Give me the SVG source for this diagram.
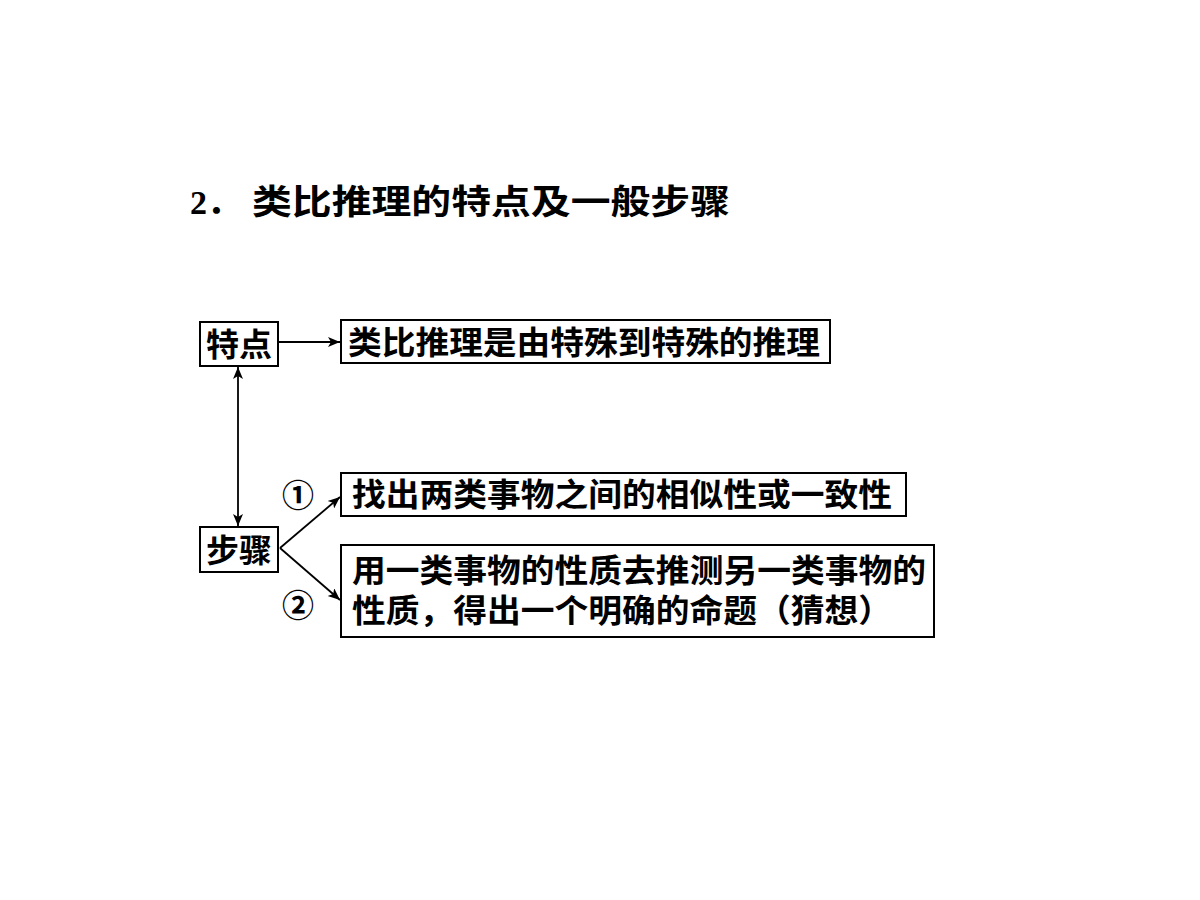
<svg xmlns="http://www.w3.org/2000/svg" width="1200" height="900" viewBox="0 0 1200 900">
<style>
text{font-family:"Liberation Serif","Noto Sans CJK SC",serif;font-weight:bold;fill:#000}
.t{font-size:32px}
.b{fill:#fff;stroke:#000;stroke-width:2}
.c{stroke:#000;stroke-width:1.8;fill:none}
</style>
<defs>
<marker id="a" viewBox="0 0 12 10" refX="12" refY="5" markerWidth="13" markerHeight="10" markerUnits="userSpaceOnUse" orient="auto-start-reverse"><path d="M0,0 L12,5 L0,10 L3,5 Z" fill="#000"/></marker>
</defs>
<rect width="1200" height="900" fill="#fff"/>
<text x="190" y="214" font-size="34">2．</text>
<text x="252" y="214" font-size="34" textLength="478" lengthAdjust="spacingAndGlyphs">类比推理的特点及一般步骤</text>
<g id="connectors">
<line class="c" x1="279" y1="342" x2="340" y2="342" marker-end="url(#a)"/>
<line class="c" x1="238" y1="367" x2="238" y2="526" marker-start="url(#a)" marker-end="url(#a)"/>
<line class="c" x1="280" y1="548" x2="340" y2="497" marker-end="url(#a)"/>
<line class="c" x1="280" y1="548" x2="340" y2="600" marker-end="url(#a)"/>
<text class="t" x="282" y="507">①</text>
<text class="t" x="282" y="617">②</text>
</g>
<g id="n1"><rect class="b" x="200" y="322" width="78" height="44"/><text class="t" x="206" y="356" textLength="66" lengthAdjust="spacingAndGlyphs">特点</text></g>
<g id="n2"><rect class="b" x="341" y="320" width="489" height="43"/><text class="t" x="348" y="354" textLength="472" lengthAdjust="spacingAndGlyphs">类比推理是由特殊到特殊的推理</text></g>
<g id="n3"><rect class="b" x="200" y="527" width="78" height="45"/><text class="t" x="206" y="562" textLength="66" lengthAdjust="spacingAndGlyphs">步骤</text></g>
<g id="n4"><rect class="b" x="341" y="473" width="565" height="43"/><text class="t" x="352" y="506" textLength="540" lengthAdjust="spacingAndGlyphs">找出两类事物之间的相似性或一致性</text></g>
<g id="n5"><rect class="b" x="341" y="545" width="593" height="92"/><text class="t" x="352" y="582" textLength="574" lengthAdjust="spacingAndGlyphs">用一类事物的性质去推测另一类事物的</text><text class="t" x="352" y="622" textLength="540" lengthAdjust="spacingAndGlyphs">性质，得出一个明确的命题（猜想）</text></g>
</svg>
